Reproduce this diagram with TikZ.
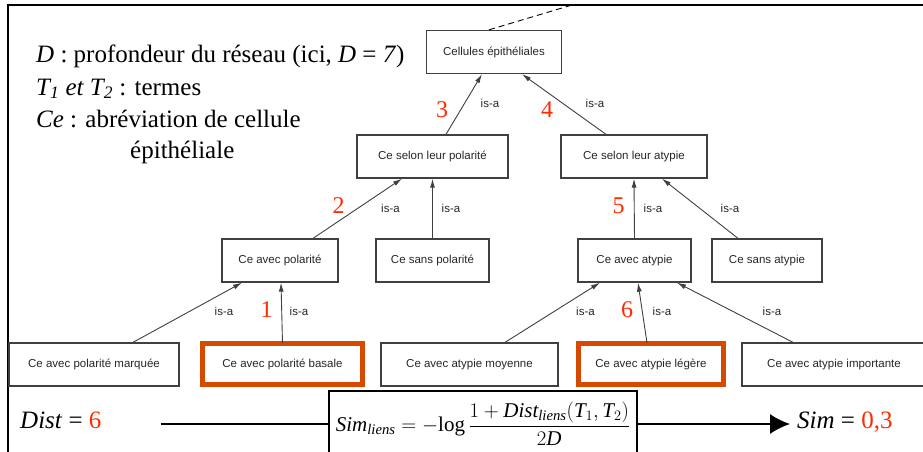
\documentclass[tikz,border=0pt]{standalone}
\usepackage{amsmath}
\usepackage{fontspec}
\setmainfont{Liberation Serif}
\setsansfont{Liberation Sans}
\usepackage{xcolor}
\definecolor{NumRed}{HTML}{FF2A00}
\definecolor{PickOrange}{HTML}{D64A00}
\definecolor{BoxGray}{HTML}{404040}
\usepackage{tikz}
\usetikzlibrary{arrows.meta,positioning,calc}
\tikzset{
  >={Latex[length=9pt,width=5pt]},
  concept/.style={
    draw=BoxGray,
    line width=1.3pt,
    minimum height=43pt,
    inner sep=0pt,
    font=\sffamily\fontsize{11.5}{13}\selectfont,
    text=black!85
  },
  picked/.style={concept, draw=PickOrange, line width=5pt, minimum height=41pt},
  isa/.style={->, line width=0.9pt, draw=black!75},
  isalbl/.style={font=\sffamily\fontsize{11.5}{13}\selectfont, text=black!85, inner sep=0pt},
  hop/.style={anchor=base, inner sep=0pt, font=\fontsize{24}{26}\selectfont, text=NumRed},
  legend/.style={anchor=base west, inner sep=0pt, font=\fontsize{25}{28}\selectfont},
  frame/.style={line width=1.5pt},
  result/.style={-{Latex[length=20pt,width=20pt]}, line width=1.5pt}
}

\begin{document}
\begin{tikzpicture}[x=1pt,y=-1pt]
  \useasboundingbox (0,0) rectangle (923,452);
  \clip (0,0) rectangle (923,452);
  \draw[frame] (8,460) -- (8,5) -- (930,5);

  % legend
  \node[legend] (leg1) at (36,63) {\textit{D} : profondeur du réseau (ici, \textit{D} = \textit{7})};
  \node[legend] (leg2) at (36,95) {\textit{T\textsubscript{1} et T\textsubscript{2}} : termes};
  \node[legend] (leg3) at (36,127) {\textit{Ce} : abréviation de cellule};
  \node[legend] (leg4) at (130,158) {épithéliale};

  % hierarchy
  \node[concept, minimum width=135pt] (cell) at (494,52) {Cellules épithéliales};
  \node[concept, minimum width=151pt] (selpol) at (432.5,156.5) {Ce selon leur polarité};
  \node[concept, minimum width=146pt] (selaty) at (634,156.5) {Ce selon leur atypie};
  \node[concept, minimum width=116pt] (avpol) at (280,260.5) {Ce avec polarité};
  \node[concept, minimum width=113pt] (sanspol) at (432.5,260.5) {Ce sans polarité};
  \node[concept, minimum width=113pt] (avaty) at (634.5,260.5) {Ce avec atypie};
  \node[concept, minimum width=110pt] (sansaty) at (767,260.5) {Ce sans atypie};
  \node[concept, minimum width=170pt] (marq) at (94,364.5) {Ce avec polarité marquée};
  \node[picked, minimum width=160pt] (basale) at (282.5,364) {Ce avec polarité basale};
  \node[concept, minimum width=177pt] (moyenne) at (469.5,364.5) {Ce avec atypie moyenne};
  \node[picked, minimum width=145pt] (legere) at (651,364) {Ce avec atypie légère};
  \node[concept, minimum width=184pt] (importante) at (834,364.5) {Ce avec atypie importante};

  \coordinate (up) at (572,5);
  \draw[dash pattern=on 6pt off 4pt, line width=0.9pt] ([xshift=-5pt]cell.north) -- (up);

  \draw[isa] ([xshift=13.5pt]selpol.north) -- ([xshift=-12pt]cell.south) node[isalbl] at (490,103) {is-a};
  \draw[isa] ([xshift=-28pt]selaty.north) -- ([xshift=28pt]cell.south) node[isalbl] at (595,103) {is-a};
  \draw[isa] ([xshift=33pt]avpol.north) -- ([xshift=-30.5pt]selpol.south) node[isalbl] at (390.5,208) {is-a};
  \draw[isa] (sanspol.north) -- (selpol.south) node[isalbl] at (451,208) {is-a};
  \draw[isa] (avaty.north) -- (selaty.south) node[isalbl] at (653,208) {is-a};
  \draw[isa] ([xshift=-29pt]sansaty.north) -- ([xshift=28pt]selaty.south) node[isalbl] at (730,208) {is-a};
  \draw[isa] ([xshift=39pt]marq.north) -- ([xshift=-38pt]avpol.south) node[isalbl] at (224,311) {is-a};
  \draw[isa] ([yshift=-2pt]basale.north) -- ([xshift=1pt]avpol.south) node[isalbl] at (299,311) {is-a};
  \draw[isa] ([xshift=35.5pt]moyenne.north) -- ([xshift=-34.5pt]avaty.south) node[isalbl] at (585.5,311) {is-a};
  \draw[isa] ([xshift=-4pt,yshift=-2pt]legere.north) -- ([xshift=3.5pt]avaty.south) node[isalbl] at (662,311) {is-a};
  \draw[isa] ([xshift=-41pt]importante.north) -- ([xshift=42.5pt]avaty.south) node[isalbl] at (772,311) {is-a};

  % path length
  \node[hop] (h1) at (266.5,317) {1};
  \node[hop] (h2) at (338.5,213) {2};
  \node[hop] (h3) at (442,117) {3};
  \node[hop] (h4) at (547,117) {4};
  \node[hop] (h5) at (618.5,213) {5};
  \node[hop] (h6) at (627,317) {6};

  % formula row
  \node[legend] (dist) at (20,428) {\textit{Dist} = \textcolor{NumRed}{6}};
  \node[draw, frame, minimum width=308pt, minimum height=66pt, inner sep=0pt,
        font=\fontsize{21}{24}\selectfont] (formula) at (483,424)
    {$\displaystyle\textit{Sim}_{\textit{liens}} = -\textup{log}\,\frac{1+\textit{Dist}_{\textit{liens}}(\textit{T}_1,\textit{T}_2)}{2\textit{D}}$};
  \node[legend] (sim) at (797,428) {\textit{Sim} = \textcolor{NumRed}{0,3}};

  \draw[frame] ([xshift=59pt]dist.east |- formula.west) -- (formula.west);
  \draw[result] (formula.east) -- ([xshift=-7pt]sim.west |- formula.east);
\end{tikzpicture}
\end{document}
